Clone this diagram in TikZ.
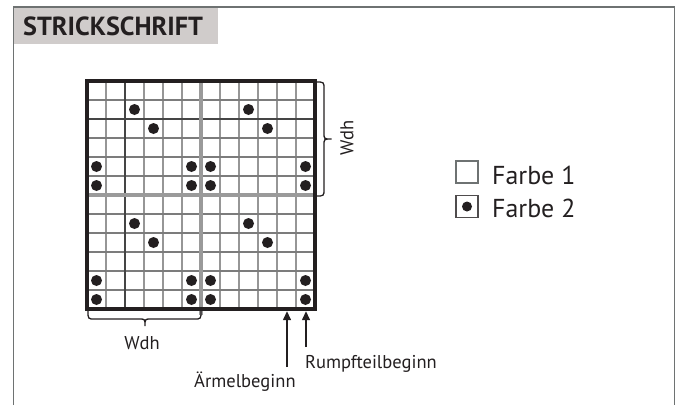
\documentclass[tikz,border=0pt]{standalone}
\usepackage{fontspec}
\setmainfont{PT Sans}
\usetikzlibrary{arrows.meta}
\definecolor{ink}{HTML}{231F20}
\definecolor{framegray}{HTML}{6E7272}
\definecolor{titlebg}{HTML}{D0CCCB}
\definecolor{gridv}{HTML}{969696}
\definecolor{gridh}{HTML}{7C7C7C}
\definecolor{griddark}{HTML}{454545}
\definecolor{thickgray}{HTML}{9A9A9A}
\tikzset{
  frameline/.style={draw=framegray,line width=1.3bp},
  thinv/.style={draw=gridv,line width=1.2bp},
  thinh/.style={draw=gridh,line width=1.2bp},
  darkline/.style={draw=griddark,line width=1.6bp},
  grayline/.style={draw=thickgray,line width=4bp},
  borderline/.style={draw=ink,line width=3.5bp},
  stitch/.style={circle,fill=ink,inner sep=0pt,minimum size=11bp},
  bracestyle/.style={draw=ink,line width=1.3bp},
  arrowline/.style={draw=ink,line width=2.2bp,-{Triangle[length=9bp,width=7.5bp]}},
  lbl/.style={text=ink,inner sep=0pt,font=\fontsize{18.6}{18.6}\selectfont},
  legtxt/.style={text=ink,inner sep=0pt,anchor=base west,font=\fontsize{26}{26}\selectfont},
  legbox/.style={draw=framegray,line width=1.2bp,minimum size=22bp,inner sep=0pt},
}
\begin{document}
\begin{tikzpicture}[x=1bp,y=-1bp]
\useasboundingbox (0,0) rectangle (680,405);
% frame and title
\fill[titlebg] (14,7) rectangle (218,44);
\draw[frameline] (13.7,405) -- (13.7,7) -- (674.3,7) -- (674.3,405);
\node[text=ink,inner sep=0pt,anchor=base west,font=\bfseries\fontsize{26.3}{26.3}\selectfont] (title) at (23,35) {STRICKSCHRIFT};
% grid: x0=87, y0=81, cell 19
\foreach \i in {1,3,4,5,7,8,9,10,11}{
  \draw[thinv] ({87+19*\i},81) -- ({87+19*\i},309);
}
\foreach \i in {1,3,4,5,7,8,9,10,11}{
  \draw[thinh] (87,{81+19*\i}) -- (315,{81+19*\i});
}
\draw[darkline] (125,81) -- (125,309);
\draw[darkline] (87,119) -- (315,119);
\draw[grayline] (201,80) -- (201,315);
\draw[grayline] (86,195) -- (316,195);
\draw[borderline] (87,81) rectangle (315,309);
% stitches
\foreach \dy in {0,6}{
  \foreach \c/\r in {2/1,8/1,3/2,9/2,0/4,5/4,6/4,11/4,0/5,5/5,6/5,11/5}{
    \node[stitch] at ({87+19*\c+9.5},{81+19*(\r+\dy)+9.5}) {};
  }
}
% right brace and label
\draw[bracestyle] (316,82) .. controls (324,82) .. (324,89) -- (324,133)
  .. controls (324,139) .. (331.5,139) .. controls (324,139) .. (324,145)
  -- (324,189) .. controls (324,196) .. (316,196);
\node[lbl,rotate=90] (wdhr) at (347,138) {Wdh};
% bottom brace and label
\draw[bracestyle] (88,311) .. controls (88,319) .. (95,319) -- (139,319)
  .. controls (145,319) .. (145,326) .. controls (145,319) .. (151,319)
  -- (194,319) .. controls (201,319) .. (201,311);
\node[lbl] (wdhb) at (142,343) {Wdh};
% arrows and labels
\node[lbl,anchor=base west] (arm) at (194,387) {Ärmelbeginn};
\node[lbl,anchor=base west] (rumpf) at (305,368) {Rumpfteilbeginn};
\coordinate (armlow) at (287,367);
\coordinate (armtop) at (287,311);
\coordinate (rumpflow) at (306,347);
\coordinate (rumpftop) at (306,311);
\draw[arrowline] (armlow) -- (armtop);
\draw[arrowline] (rumpflow) -- (rumpftop);
% legend
\node[legbox] (box1) at (467,172) {};
\node[legbox,draw=ink!80] (box2) at (467,206.5) {};
\node[stitch,minimum size=10bp] (dot2) at (box2.center) {};
\node[legtxt] (f1) at (492,184) {Farbe 1};
\node[legtxt] (f2) at (492,217.5) {Farbe 2};
\end{tikzpicture}
\end{document}
